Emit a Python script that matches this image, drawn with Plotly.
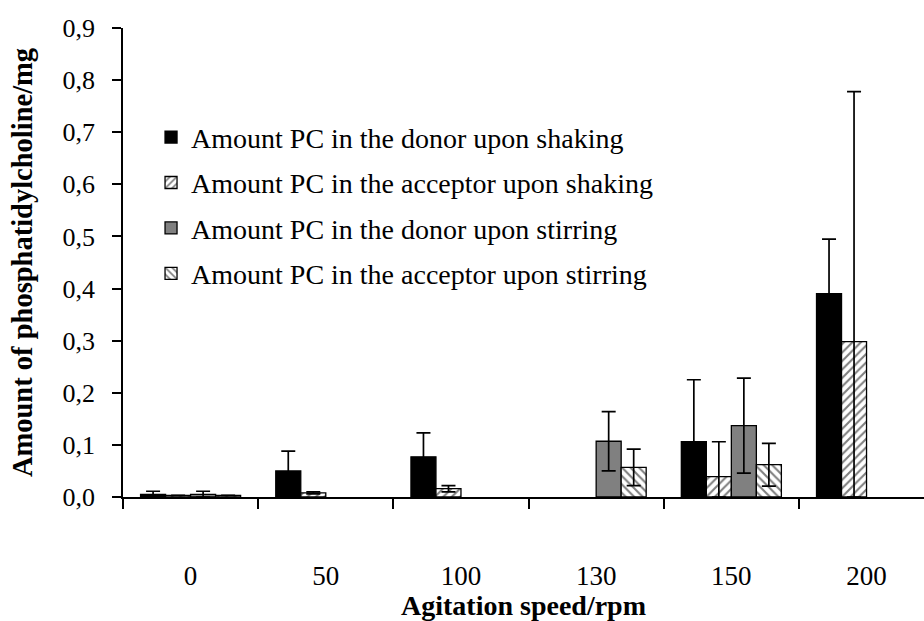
import plotly.graph_objects as go

categories = ["0", "50", "100", "130", "150", "200"]

donor_shake = [0.005, 0.050, 0.077, None, 0.106, 0.390]
donor_shake_err = [0.006, 0.038, 0.046, None, 0.119, 0.105]
acc_shake = [0.003, 0.008, 0.016, None, 0.039, 0.298]
acc_shake_err = [None, 0.002, 0.006, None, 0.067, 0.480]
donor_stir = [0.005, None, None, 0.107, 0.137, None]
donor_stir_err = [0.006, None, None, 0.057, 0.091, None]
acc_stir = [0.003, None, None, 0.057, 0.062, None]
acc_stir_err = [None, None, None, 0.035, 0.041, None]

names = [
    "Amount PC in the donor upon shaking",
    "Amount PC in the acceptor upon shaking",
    "Amount PC in the donor upon stirring",
    "Amount PC in the acceptor upon stirring",
]

def minus(vals, errs):
    out = []
    for v, e in zip(vals, errs):
        if v is None or e is None:
            out.append(None)
        else:
            out.append(min(v, e))
    return out

FONT = "Times New Roman, Liberation Serif, serif"

series = [
    (donor_shake, donor_shake_err, dict(color="#000000")),
    (acc_shake, acc_shake_err, dict(color="#ffffff", pattern=dict(shape="/", fgcolor="#000000", bgcolor="#ffffff", size=6, solidity=0.35))),
    (donor_stir, donor_stir_err, dict(color="#808080")),
    (acc_stir, acc_stir_err, dict(color="#ffffff", pattern=dict(shape="\\", fgcolor="#000000", bgcolor="#ffffff", size=6, solidity=0.35))),
]

fig = go.Figure()
for i, (vals, errs, mk) in enumerate(series):
    marker = dict(mk)
    marker["line"] = dict(color="#000000", width=1.3)
    fig.add_trace(go.Bar(
        x=categories, y=vals, name=names[i], legendgroup=f"g{i}",
        marker=marker,
        error_y=dict(type="data", array=errs, arrayminus=minus(vals, errs),
                     symmetric=False, color="#000000", thickness=1.7, width=7),
    ))

fig.update_layout(
    width=924, height=621,
    margin=dict(l=123, r=0, t=28, b=124, autoexpand=False),
    paper_bgcolor="white", plot_bgcolor="white",
    barmode="group", bargap=0.26, bargroupgap=0,
    separators=",.",
    font=dict(family=FONT, color="#000000"),
    legend=dict(x=0.035, y=0.82, xanchor="left", yanchor="top",
                font=dict(family=FONT, size=28), tracegroupgap=6,
                bgcolor="rgba(0,0,0,0)"),
    xaxis=dict(
        range=[-0.5, 5.425], showline=True, linecolor="#000000", linewidth=1.5,
        ticks="outside", tickson="boundaries", ticklen=10, tickcolor="#000000", tickwidth=1.5,
        tickfont=dict(family=FONT, size=27), ticklabelstandoff=54, automargin=False,
        title=dict(text="<b>Agitation speed/rpm</b>", font=dict(family=FONT, size=28), standoff=11),
        showgrid=False, zeroline=False,
    ),
    yaxis=dict(
        range=[0, 0.9], tickvals=[0, 0.1, 0.2, 0.3, 0.4, 0.5, 0.6, 0.7, 0.8, 0.9],
        tickformat=".1f", showline=True, linecolor="#000000", linewidth=1.5,
        ticks="outside", ticklen=9, tickcolor="#000000", tickwidth=1.5,
        tickfont=dict(family=FONT, size=26), ticklabelstandoff=12, automargin=False,
        title=dict(text="<b>Amount of phosphatidylcholine/mg</b>", font=dict(family=FONT, size=28.5), standoff=22),
        showgrid=False, zeroline=False,
    ),
)

fig.write_html("out.html")
